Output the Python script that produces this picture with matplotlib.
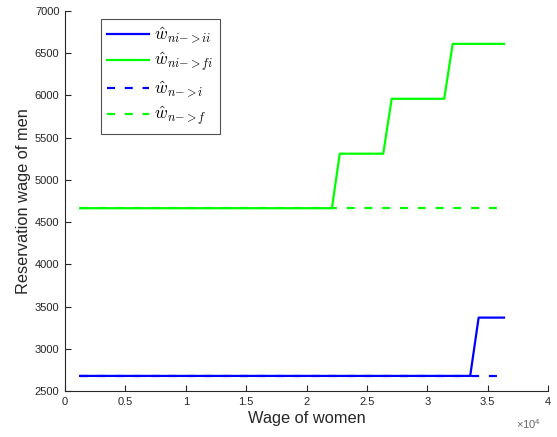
import matplotlib.pyplot as plt
from matplotlib.ticker import FuncFormatter

# wage of women (x) breakpoints and reservation wages of men (y)
x_ni_ii = [1250, 33550, 34250, 36350]
y_ni_ii = [2680, 2680, 3370, 3370]

x_ni_fi = [1250, 22100, 22750, 26350, 27050, 31400, 32100, 36350]
y_ni_fi = [4665, 4665, 5310, 5310, 5960, 5960, 6610, 6610]

x_n_i = [1250, 35950]
y_n_i = [2680, 2680]

x_n_f = [1250, 35950]
y_n_f = [4665, 4665]

labels = [r'$\hat{w}_{ni{-}{>}ii}$', r'$\hat{w}_{ni{-}{>}fi}$',
          r'$\hat{w}_{n{-}{>}i}$', r'$\hat{w}_{n{-}{>}f}$']

plt.rcParams['font.family'] = ['Liberation Sans', 'DejaVu Sans']
plt.rcParams['mathtext.fontset'] = 'cm'

blue = (0, 0, 1)
green = (0, 1, 0)
axcol = (0.15, 0.15, 0.15)

fig = plt.figure(figsize=(5.57, 4.37), dpi=100)
ax = fig.add_axes([0.1167, 0.105, 0.8673, 0.870])

lw = 1.6
ax.plot(x_ni_ii, y_ni_ii, color=blue, lw=lw, label=labels[0])
ax.plot(x_ni_fi, y_ni_fi, color=green, lw=lw, label=labels[1])
ax.plot(x_n_i, y_n_i, color=blue, lw=lw, dashes=(3.6, 4.4), label=labels[2])
ax.plot(x_n_f, y_n_f, color=green, lw=lw, dashes=(3.6, 4.4), label=labels[3])

ax.set_xlim(0, 40000)
ax.set_ylim(2500, 7000)
ax.set_xticks([i * 5000 for i in range(9)])
ax.set_yticks(range(2500, 7001, 500))
ax.xaxis.set_major_formatter(FuncFormatter(lambda v, p: f"{v / 1e4:g}"))

for s in ['top', 'right']:
    ax.spines[s].set_visible(False)
for s in ['left', 'bottom']:
    ax.spines[s].set_color(axcol)
    ax.spines[s].set_linewidth(0.8)
ax.tick_params(direction='in', length=4, width=0.8, colors=axcol,
               labelsize=8, pad=4)

ax.set_xlabel('Wage of women', fontsize=11.8, color=axcol, labelpad=3)
ax.set_ylabel('Reservation wage of men', fontsize=11.8, color=axcol, labelpad=3)
ax.text(0.985, -0.068, r'$\mathregular{\times10^{4}}$', transform=ax.transAxes,
        ha='right', va='top', fontsize=8, color=(0.4, 0.4, 0.4))

leg = ax.legend(loc='upper left', bbox_to_anchor=(0.075, 0.98), fontsize=12.5,
                frameon=True, fancybox=False, handlelength=2.4,
                handletextpad=0.3, borderpad=0.35, labelspacing=0.3,
                borderaxespad=0)
leg.get_frame().set_edgecolor(axcol)
leg.get_frame().set_linewidth(0.8)

fig.savefig('out.png', dpi=100)
